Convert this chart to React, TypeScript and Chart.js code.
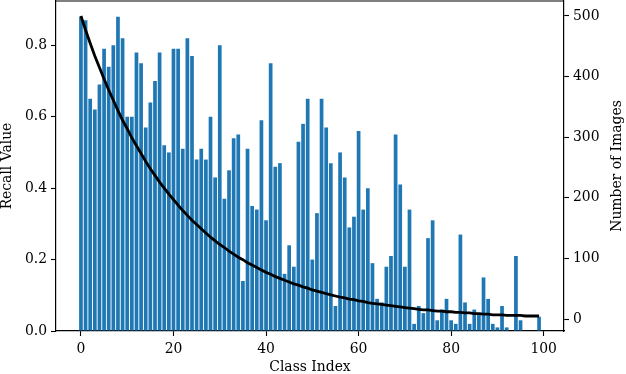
import React, { useEffect, useRef } from "react";
import { Chart, registerables } from "chart.js";

Chart.register(...registerables);

const classIndex: number[] = Array.from({ length: 100 }, (_, i) => i);

const recallValues: number[] = [
  0.88, 0.87, 0.65, 0.62, 0.69, 0.79, 0.74, 0.80, 0.88, 0.82,
  0.60, 0.60, 0.78, 0.75, 0.57, 0.64, 0.70, 0.78, 0.52, 0.50,
  0.79, 0.79, 0.51, 0.82, 0.77, 0.48, 0.51, 0.48, 0.60, 0.43,
  0.80, 0.37, 0.45, 0.54, 0.55, 0.14, 0.51, 0.35, 0.34, 0.59,
  0.31, 0.75, 0.46, 0.47, 0.16, 0.24, 0.18, 0.53, 0.58, 0.65,
  0.20, 0.33, 0.65, 0.57, 0.47, 0.07, 0.50, 0.43, 0.29, 0.32,
  0.56, 0.34, 0.40, 0.19, 0.09, 0.08, 0.18, 0.21, 0.55, 0.41,
  0.18, 0.34, 0.02, 0.07, 0.05, 0.26, 0.31, 0.03, 0.06, 0.09,
  0.03, 0.02, 0.27, 0.08, 0.02, 0.06, 0.05, 0.15, 0.09, 0.02,
  0.01, 0.07, 0.01, 0.00, 0.21, 0.03, 0.00, 0.00, 0.00, 0.04,
];

const imageCounts: number[] = [
  500, 477, 455, 434, 415, 396, 378, 361, 344, 328,
  314, 299, 286, 273, 260, 248, 237, 226, 216, 206,
  197, 188, 179, 171, 163, 156, 149, 142, 135, 129,
  123, 118, 112, 107, 102, 98, 93, 89, 85, 81,
  77, 74, 70, 67, 64, 61, 58, 56, 53, 51,
  48, 46, 44, 42, 40, 38, 36, 35, 33, 32,
  30, 29, 27, 26, 25, 24, 23, 22, 21, 20,
  19, 18, 17, 16, 15, 15, 14, 13, 13, 12,
  12, 11, 11, 10, 10, 9, 9, 8, 8, 7,
  7, 7, 6, 6, 6, 6, 5, 5, 5, 5,
];

const xTicks: number[] = [0, 20, 40, 60, 80, 100];
const recallTicks: number[] = [0, 0.2, 0.4, 0.6, 0.8];
const countTicks: number[] = [0, 100, 200, 300, 400, 500];

const FONT_FAMILY = "'DejaVu Serif', serif";
const FONT_SIZE = 13.9;

function zeroPadding(s: any) {
  s.paddingTop = 0;
  s.paddingBottom = 0;
  s.paddingLeft = 0;
  s.paddingRight = 0;
}

export default function App() {
  const canvasRef = useRef<HTMLCanvasElement | null>(null);

  useEffect(() => {
    if (!canvasRef.current) return;

    const framePlugin = {
      id: "frameAndTitle",
      afterDraw(chart: any) {
        const { ctx, chartArea } = chart;
        ctx.save();
        ctx.strokeStyle = "#000";
        ctx.lineWidth = 1.2;
        ctx.beginPath();
        ctx.moveTo(chartArea.left, chartArea.top);
        ctx.lineTo(chartArea.right, chartArea.top);
        ctx.stroke();
        ctx.restore();

        ctx.save();
        ctx.fillStyle = "#000";
        ctx.font = `${FONT_SIZE}px ${FONT_FAMILY}`;
        ctx.textAlign = "center";
        ctx.textBaseline = "middle";
        ctx.translate(chart.width - 9, (chartArea.top + chartArea.bottom) / 2);
        ctx.rotate(-Math.PI / 2);
        ctx.fillText("Number of Images", 0, 0);
        ctx.restore();
      },
    };

    const font = { family: FONT_FAMILY, size: FONT_SIZE };

    const chart = new Chart(canvasRef.current, {
      type: "bar",
      data: {
        datasets: [
          {
            type: "line",
            label: "Number of Images",
            data: classIndex.map((x, i) => ({ x, y: imageCounts[i] })),
            yAxisID: "y2",
            xAxisID: "x",
            borderColor: "#000",
            borderWidth: 2.8,
            pointRadius: 0,
            tension: 0,
            order: 0,
          } as any,
          {
            type: "bar",
            label: "Recall Value",
            data: classIndex.map((x, i) => ({ x, y: recallValues[i] })),
            yAxisID: "y",
            xAxisID: "x",
            backgroundColor: "#1f77b4",
            borderWidth: 0,
            barPercentage: 0.8,
            categoryPercentage: 1,
            order: 1,
          } as any,
        ],
      },
      options: {
        responsive: false,
        animation: false,
        devicePixelRatio: 1,
        layout: { padding: { top: 1, left: 0, right: 0, bottom: 0 } },
        plugins: {
          legend: { display: false },
          tooltip: { enabled: false },
        },
        scales: {
          x: {
            type: "linear",
            position: "bottom",
            offset: false,
            min: -5.39,
            max: 104.39,
            afterBuildTicks: (axis: any) => {
              axis.ticks = xTicks.map((v) => ({ value: v }));
            },
            afterFit: (s: any) => {
              s.height = 43;
              zeroPadding(s);
            },
            grid: {
              display: true,
              offset: false,
              drawOnChartArea: false,
              tickLength: 5,
              tickColor: "#000",
              tickWidth: 1.1,
            },
            border: { display: true, color: "#000", width: 1.2 },
            ticks: {
              font,
              color: "#000",
              padding: 5,
              maxRotation: 0,
              autoSkip: false,
              callback: (v: any) => String(v),
            },
            title: {
              display: true,
              text: "Class Index",
              font: { ...font, lineHeight: 1.0 },
              color: "#000",
              padding: { top: 0, bottom: 0 },
            },
          },
          y: {
            type: "linear",
            position: "left",
            min: 0,
            max: 0.924,
            afterBuildTicks: (axis: any) => {
              axis.ticks = recallTicks.map((v) => ({ value: v }));
            },
            afterFit: (s: any) => {
              s.width = 56;
              zeroPadding(s);
            },
            grid: {
              display: true,
              drawOnChartArea: false,
              tickLength: 5,
              tickColor: "#000",
              tickWidth: 1.1,
            },
            border: { display: true, color: "#000", width: 1.2 },
            ticks: {
              font,
              color: "#000",
              padding: 4,
              callback: (v: any) => Number(v).toFixed(1),
            },
            title: {
              display: true,
              text: "Recall Value",
              font: { ...font, lineHeight: 1.1 },
              color: "#000",
              padding: { top: 0, bottom: 0 },
            },
          },
          y2: {
            type: "linear",
            position: "right",
            min: -19.75,
            max: 524.75,
            afterBuildTicks: (axis: any) => {
              axis.ticks = countTicks.map((v) => ({ value: v }));
            },
            afterFit: (s: any) => {
              s.width = 62;
              zeroPadding(s);
            },
            grid: {
              display: true,
              drawOnChartArea: false,
              tickLength: 5,
              tickColor: "#000",
              tickWidth: 1.1,
            },
            border: { display: true, color: "#000", width: 1.2 },
            ticks: {
              font,
              color: "#000",
              padding: 4,
              callback: (v: any) => String(v),
            },
            title: { display: false },
          },
        },
      } as any,
      plugins: [framePlugin],
    });

    return () => {
      chart.destroy();
    };
  }, []);

  return (
    <div
      style={{
        position: "absolute",
        left: 0,
        top: 0,
        width: 626,
        height: 374,
        background: "#fff",
      }}
    >
      <canvas
        ref={canvasRef}
        width={626}
        height={374}
        style={{ display: "block", width: 626, height: 374 }}
      />
    </div>
  );
}
